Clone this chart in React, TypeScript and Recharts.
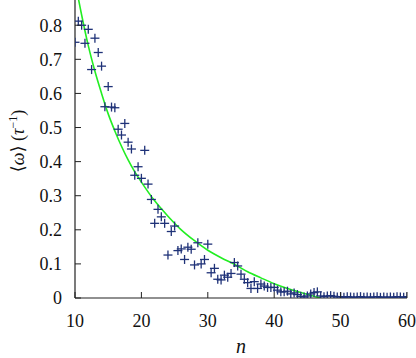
import { ComposedChart, Scatter, Line, XAxis, YAxis, Label } from 'recharts';

const nValues = [
  10, 10.5, 11, 11.5, 12, 12.5, 13, 13.5, 14, 14.5, 15, 15.5, 16, 16.5, 17, 17.5, 18, 18.5, 19, 19.5,
  20, 20.5, 21, 21.5, 22, 22.5, 23, 23.5, 24, 24.5, 25, 25.5, 26, 26.5, 27, 27.5, 28, 28.5, 29, 29.5,
  30, 30.5, 31, 31.5, 32, 32.5, 33, 33.5, 34, 34.5, 35, 35.5, 36, 36.5, 37, 37.5, 38, 38.5, 39, 39.5,
  40, 40.5, 41, 41.5, 42, 42.5, 43, 43.5, 44, 44.5, 45, 45.5, 46, 46.5, 47, 47.5, 48, 48.5, 49, 49.5,
  50, 50.5, 51, 51.5, 52, 52.5, 53, 53.5, 54, 54.5, 55, 55.5, 56, 56.5, 57, 57.5, 58, 58.5, 59, 59.5,
  60,
];

const omegaValues = [
  0.75, 0.812, 0.8, 0.747, 0.788, 0.67, 0.762, 0.72, 0.68, 0.561, 0.62, 0.56, 0.558, 0.495, 0.478, 0.512, 0.457, 0.437, 0.36, 0.385,
  0.351, 0.433, 0.334, 0.289, 0.219, 0.26, 0.238, 0.219, 0.126, 0.195, 0.211, 0.139, 0.144, 0.113, 0.149, 0.143, 0.097, 0.162, 0.1, 0.113,
  0.158, 0.074, 0.087, 0.055, 0.053, 0.067, 0.061, 0.072, 0.104, 0.094, 0.07, 0.055, 0.045, 0.028, 0.048, 0.028, 0.041, 0.035, 0.031, 0.031,
  0.031, 0.023, 0.018, 0.018, 0.02, 0.012, 0.015, 0.01, 0.005, 0.003, 0.006, 0.012, 0.016, 0.018, 0.006, 0.004, 0.006, 0.007, 0.005, 0.003,
  0.004, 0.002, 0.004, 0.003, 0.002, 0.003, 0.004, 0.002, 0.003, 0.002, 0.003, 0.004, 0.002, 0.003, 0.002, 0.003, 0.002, 0.004, 0.003, 0.002,
  0.004,
];

// fitted curve
const fitN = [10, 11, 12, 13, 14, 15, 16, 17, 18, 19, 20, 22, 24, 26, 28, 30, 32, 34, 36, 38, 40, 42, 44, 46, 47];
const fitOmega = [0.93, 0.83, 0.74, 0.665, 0.6, 0.54, 0.49, 0.445, 0.405, 0.37, 0.34, 0.285, 0.24, 0.2, 0.168, 0.14, 0.118, 0.099, 0.077, 0.059, 0.042, 0.028, 0.016, 0.005, 0];

const xTicks = [10, 20, 30, 40, 50, 60];
const yTicks = [0, 0.1, 0.2, 0.3, 0.4, 0.5, 0.6, 0.7, 0.8];

const points = nValues.map((n, i) => ({ n, v: omegaValues[i] }));
const fit = fitN.map((n, i) => ({ n, v: fitOmega[i] }));

const FONT = '"Liberation Serif", "DejaVu Serif", serif';
const AXIS = '#222';

const Cross = (props: any) => {
  const { cx, cy } = props;
  if (cx == null || cy == null) return null;
  return (
    <g stroke="#1f3278" strokeWidth={1.3}>
      <line x1={cx - 4.5} y1={cy} x2={cx + 4.5} y2={cy} />
      <line x1={cx} y1={cy - 4.5} x2={cx} y2={cy + 4.5} />
    </g>
  );
};

const BottomTick = ({ x, y, payload }: any) => (
  <g>
    <line x1={x} y1={y} x2={x} y2={y - 6} stroke={AXIS} />
    <text x={x} y={y + 29} textAnchor="middle" fontFamily={FONT} fontSize={18} fill="#111">
      {payload.value}
    </text>
  </g>
);

const TopTick = ({ x, y }: any) => (
  <line x1={x} y1={y} x2={x} y2={y + 6} stroke={AXIS} />
);

const LeftTick = ({ x, y, payload }: any) => (
  <g>
    <line x1={x} y1={y} x2={x + 6} y2={y} stroke={AXIS} />
    <text x={x - 13} y={y} dy="0.35em" textAnchor="end" fontFamily={FONT} fontSize={18} fill="#111">
      {payload.value}
    </text>
  </g>
);

const RightTick = ({ x, y }: any) => (
  <line x1={x} y1={y} x2={x - 6} y2={y} stroke={AXIS} />
);

export default function App() {
  return (
    <div style={{ position: 'absolute', left: 0, top: 0, width: 416, height: 358, background: '#fff' }}>
      <ComposedChart width={416} height={358} margin={{ top: 0, right: 9, bottom: 0, left: 0 }}>
        <XAxis
          dataKey="n"
          type="number"
          domain={[10, 60]}
          ticks={xTicks}
          allowDataOverflow
          height={60}
          tickSize={0}
          tickMargin={0}
          tickLine={false}
          axisLine={{ stroke: AXIS, strokeWidth: 1.2 }}
          tick={<BottomTick />}
          interval={0}
        >
          <Label
            content={({ viewBox }: any) => (
              <text
                x={viewBox.x + viewBox.width / 2}
                y={viewBox.y + 55}
                textAnchor="middle"
                fontFamily={FONT}
                fontStyle="italic"
                fontSize={20}
                fill="#111"
              >
                n
              </text>
            )}
          />
        </XAxis>
        <XAxis
          xAxisId="top"
          dataKey="n"
          type="number"
          orientation="top"
          domain={[10, 60]}
          ticks={xTicks}
          allowDataOverflow
          height={0}
          tickSize={0}
          tickMargin={0}
          tickLine={false}
          axisLine={false}
          tick={<TopTick />}
          interval={0}
        />
        <YAxis
          yAxisId="left"
          type="number"
          domain={[0, 0.874]}
          ticks={yTicks}
          allowDataOverflow
          width={75}
          tickSize={0}
          tickMargin={0}
          tickLine={false}
          axisLine={{ stroke: AXIS, strokeWidth: 1.2 }}
          tick={<LeftTick />}
          interval={0}
        >
          <Label
            content={({ viewBox }: any) => {
              const cx = viewBox.x + 18;
              const cy = viewBox.y + viewBox.height / 2 - 8;
              return (
                <text
                  x={cx}
                  y={cy}
                  transform={`rotate(-90 ${cx} ${cy})`}
                  textAnchor="middle"
                  dy="0.35em"
                  fontFamily={FONT}
                  fontSize={18}
                  fill="#111"
                >
                  ⟨<tspan fontStyle="italic">ω</tspan>⟩ (<tspan fontStyle="italic">τ</tspan>
                  <tspan dy={-7} fontSize={12}>−1</tspan>
                  <tspan dy={7}>)</tspan>
                </text>
              );
            }}
          />
        </YAxis>
        <YAxis
          yAxisId="right"
          orientation="right"
          type="number"
          domain={[0, 0.874]}
          ticks={yTicks}
          allowDataOverflow
          width={0}
          tickSize={0}
          tickMargin={0}
          tickLine={false}
          axisLine={{ stroke: AXIS, strokeWidth: 1.2 }}
          tick={<RightTick />}
          interval={0}
        />
        <Line
          yAxisId="left"
          data={fit}
          dataKey="v"
          type="monotone"
          stroke="#22ee22"
          strokeWidth={1.6}
          dot={false}
          isAnimationActive={false}
        />
        <Scatter
          yAxisId="left"
          data={points}
          dataKey="v"
          shape={<Cross />}
          isAnimationActive={false}
        />
      </ComposedChart>
    </div>
  );
}
